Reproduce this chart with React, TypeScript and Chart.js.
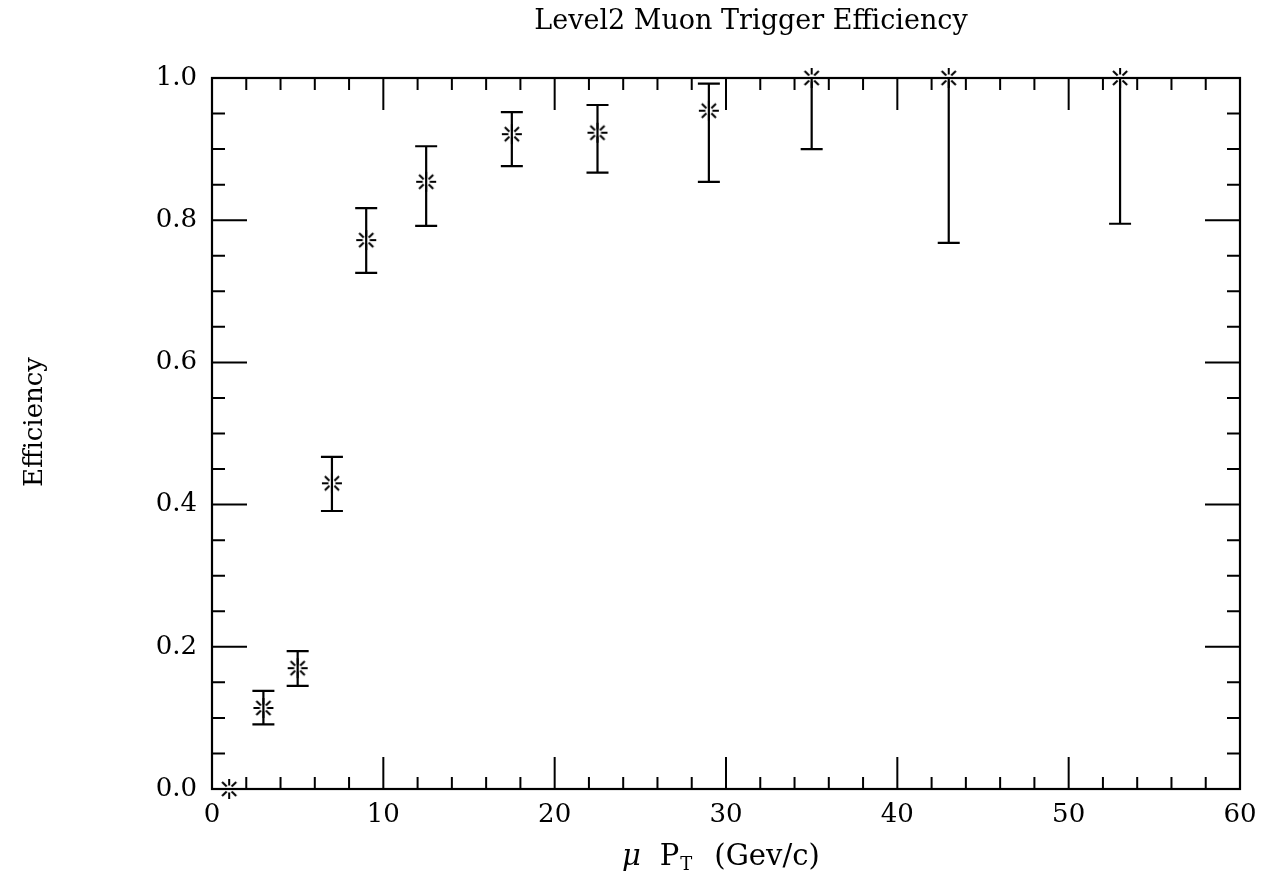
import React, { useEffect, useRef } from "react";
import { Chart, registerables } from "chart.js";

Chart.register(...registerables);

// ---- Data ----
const ptValues = [1, 3, 5, 7, 9, 12.5, 17.5, 22.5, 29, 35, 43, 53];
const efficiency = [0.0, 0.114, 0.17, 0.43, 0.772, 0.854, 0.921, 0.923, 0.954, 1.0, 1.0, 1.0];
const errLow = [0.0, 0.091, 0.145, 0.391, 0.726, 0.792, 0.876, 0.867, 0.854, 0.9, 0.768, 0.795];
const errHigh = [0.0, 0.138, 0.194, 0.467, 0.817, 0.904, 0.952, 0.962, 0.992, 1.0, 1.0, 1.0];

const xTickStep = 10;
const yTickStep = 0.2;
const xMinorStep = 2;
const yMinorStep = 0.05;

const TITLE = "Level2 Muon Trigger Efficiency";
const Y_TITLE = "Efficiency";

const FONT = "'DejaVu Serif', 'Liberation Serif', serif";

function makeStarMarker(): HTMLCanvasElement {
  const size = 24;
  const c = document.createElement("canvas");
  c.width = size;
  c.height = size;
  const g = c.getContext("2d")!;
  g.strokeStyle = "#000";
  g.lineWidth = 2;
  const cx = size / 2;
  const cy = size / 2;
  for (let k = 0; k < 8; k++) {
    const a = (k * Math.PI) / 4;
    g.beginPath();
    g.moveTo(cx + Math.cos(a) * 3.5, cy + Math.sin(a) * 3.5);
    g.lineTo(cx + Math.cos(a) * 10, cy + Math.sin(a) * 10);
    g.stroke();
  }
  return c;
}

const framePlugin = {
  id: "frameTicks",
  beforeDatasetsDraw(chart: any) {
    const { ctx, chartArea } = chart;
    const xs = chart.scales.x;
    const ys = chart.scales.y;
    const { left, right, top, bottom } = chartArea;
    ctx.save();
    ctx.strokeStyle = "#000";
    ctx.lineWidth = 2.2;
    ctx.strokeRect(left, top, right - left, bottom - top);
    ctx.lineWidth = 2;
    // x ticks
    for (let v = xs.min; v <= xs.max + 1e-9; v += xMinorStep) {
      const px = xs.getPixelForValue(v);
      const major = Math.abs(v / xTickStep - Math.round(v / xTickStep)) < 1e-6;
      const len = major ? 32 : 12;
      ctx.beginPath();
      ctx.moveTo(px, bottom);
      ctx.lineTo(px, bottom - len);
      ctx.moveTo(px, top);
      ctx.lineTo(px, top + len);
      ctx.stroke();
    }
    // y ticks
    for (let i = 0; i <= Math.round((ys.max - ys.min) / yMinorStep); i++) {
      const v = ys.min + i * yMinorStep;
      const py = ys.getPixelForValue(v);
      const major = Math.abs(v / yTickStep - Math.round(v / yTickStep)) < 1e-6;
      const len = major ? 35 : 13;
      ctx.beginPath();
      ctx.moveTo(left, py);
      ctx.lineTo(left + len, py);
      ctx.moveTo(right, py);
      ctx.lineTo(right - len, py);
      ctx.stroke();
    }
    // error bars
    ctx.lineWidth = 2.2;
    const cap = 11;
    for (let i = 0; i < ptValues.length; i++) {
      if (errHigh[i] === errLow[i]) continue;
      const px = xs.getPixelForValue(ptValues[i]);
      const pLo = ys.getPixelForValue(errLow[i]);
      const pHi = ys.getPixelForValue(errHigh[i]);
      ctx.beginPath();
      ctx.moveTo(px, pLo);
      ctx.lineTo(px, pHi);
      ctx.moveTo(px - cap, pLo);
      ctx.lineTo(px + cap, pLo);
      if (errHigh[i] < ys.max) {
        ctx.moveTo(px - cap, pHi);
        ctx.lineTo(px + cap, pHi);
      }
      ctx.stroke();
    }
    ctx.restore();
  },
  afterDraw(chart: any) {
    const { ctx } = chart;
    ctx.save();
    ctx.fillStyle = "#000";
    ctx.textBaseline = "middle";

    // main title (placed off-centre as in the reference)
    ctx.font = `27px ${FONT}`;
    ctx.textAlign = "center";
    ctx.fillText(TITLE, 751, 22);

    // y-axis title
    ctx.save();
    ctx.translate(35, 422);
    ctx.rotate(-Math.PI / 2);
    ctx.font = `26px ${FONT}`;
    ctx.fillText(Y_TITLE, 0, 0);
    ctx.restore();

    // x-axis title with subscript
    ctx.textAlign = "left";
    const main = `29px ${FONT}`;
    const ital = `italic 29px ${FONT}`;
    const sub = `18px ${FONT}`;
    const parts = [
      { t: "\u03bc", f: ital, dy: 0, gap: 19 },
      { t: "P", f: main, dy: 0, gap: 1 },
      { t: "T", f: sub, dy: 8, gap: 22 },
      { t: "(Gev/c)", f: main, dy: 0, gap: 0 },
    ];
    let x = 622;
    const y = 857;
    for (const p of parts) {
      ctx.font = p.f;
      ctx.fillText(p.t, x, y + p.dy);
      x += ctx.measureText(p.t).width + p.gap;
    }
    ctx.restore();
  },
};

export default function App() {
  const ref = useRef<HTMLCanvasElement | null>(null);

  useEffect(() => {
    if (!ref.current) return;
    const marker = makeStarMarker();
    const chart = new Chart(ref.current, {
      type: "scatter",
      data: {
        datasets: [
          {
            label: "Efficiency",
            data: ptValues.map((x, i) => ({ x, y: efficiency[i] })),
            pointStyle: marker as any,
            pointRadius: 10,
            borderColor: "#000",
            backgroundColor: "#000",
            clip: false as any,
          },
        ],
      },
      plugins: [framePlugin],
      options: {
        responsive: false,
        animation: false,
        layout: { padding: { left: 0, right: 34, top: 78, bottom: 0 } },
        plugins: {
          legend: { display: false },
          tooltip: { enabled: false },
          title: { display: false },
        },
        scales: {
          x: {
            type: "linear",
            min: 0,
            max: 60,
            grid: { display: false, drawTicks: false },
            border: { display: false },
            ticks: {
              stepSize: xTickStep,
              color: "#000",
              padding: 11,
              maxRotation: 0,
              font: { family: FONT, size: 26 },
            },
            afterFit: (s: any) => {
              s.height = 93;
            },
          },
          y: {
            type: "linear",
            min: 0,
            max: 1,
            grid: { display: false, drawTicks: false },
            border: { display: false },
            ticks: {
              stepSize: yTickStep,
              color: "#000",
              padding: 15,
              font: { family: FONT, size: 26 },
              callback: (v: any) => Number(v).toFixed(1),
            },
            afterFit: (s: any) => {
              s.width = 212;
            },
          },
        },
      },
    });
    return () => chart.destroy();
  }, []);

  return (
    <div style={{ position: "fixed", left: 0, top: 0, width: 1274, height: 882, background: "#fff" }}>
      <canvas ref={ref} width={1274} height={882} />
    </div>
  );
}
